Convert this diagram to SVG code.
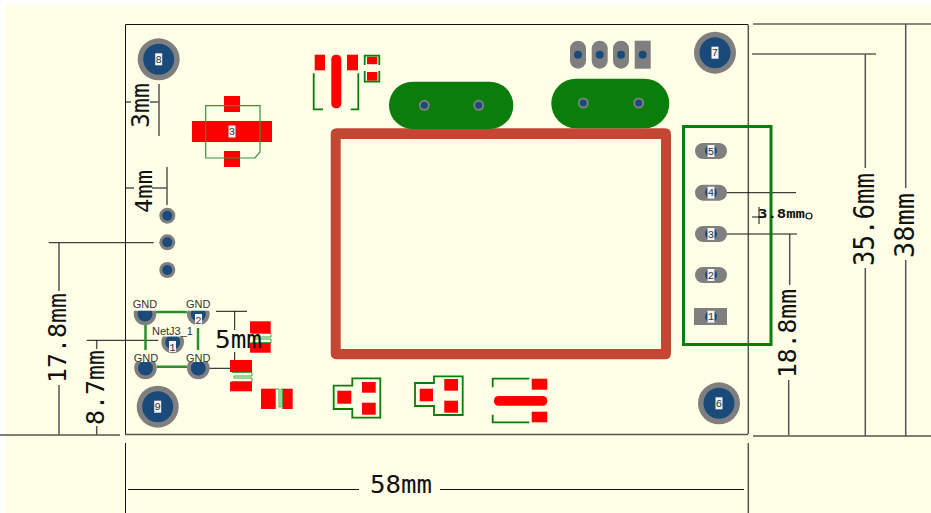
<svg xmlns="http://www.w3.org/2000/svg" width="931" height="513" viewBox="0 0 931 513">
<style>
.bg{fill:#ffffe8}
.pad{fill:#fe0000}
.outline{fill:none;stroke:#0a7d0a;stroke-width:1.8}
.fine{fill:none;stroke:#3c8f3c;stroke-width:1.2}
.thick{fill:none;stroke:#0a7d0a;stroke-width:3}
.track{fill:none;stroke:#2b8f2b;stroke-width:2.5}
.thin{fill:none;stroke:#46a046;stroke-width:1}
.ring{fill:#7f7f7f}
.hole{fill:#1a4a7a}
.body{fill:#0a7d0a}
.dim{stroke:#111;stroke-width:1;fill:none}
.dimg{stroke:#555;stroke-width:1.5;fill:none}
.box{fill:#f4f4f4}
.lab{font-family:"Liberation Mono","DejaVu Sans Mono",monospace;font-size:10.5px;fill:#334;text-anchor:middle}
.net{font-family:"Liberation Sans","DejaVu Sans",sans-serif;font-size:11px;fill:#333;text-anchor:middle}
.size{font-family:"DejaVu Sans Mono","Liberation Mono",monospace;fill:#111}
</style>
<defs>
<g id="mount"><circle r="21" class="ring"/><circle r="15.5" class="hole"/><rect x="-3.5" y="-6" width="7" height="12" class="box"/></g>
<g id="pin"><circle r="8" class="ring"/><circle r="5" class="hole"/></g>
<g id="via"><circle r="5.5" class="ring"/><circle r="3.5" class="hole"/></g>
<g id="pill5"><rect x="-16" y="-8" width="32" height="16" rx="8" class="ring"/><circle r="6" class="hole"/><rect x="-3.5" y="-6" width="7" height="12" class="box"/></g>
<g id="pillv"><rect x="-8" y="-14" width="16" height="28" rx="8" class="ring"/><circle r="4" class="hole"/></g>
</defs>
<rect width="931" height="513" fill="#fff"/>
<rect x="5" y="5" width="926" height="508" class="bg"/>

<g id="relay"><path fill="#c34733" fill-rule="evenodd" d="M337 128.3H665Q671 128.3 671 134.3V353.3Q671 359.3 665 359.3H337Q330.7 359.3 330.7 353.3V134.3Q330.7 128.3 337 128.3ZM340.7 139V349H661V139Z"/></g>

<g id="connectors">
<path class="dim" d="M125.5 24.5H748M125.5 24.5V434"/>
<path class="dimg" d="M748.3 24.5V434M0 435H120M125 434.5H748M753 436H931"/>
<path class="dim" d="M125.5 443V513M128 489.5H359M440 489.5H744"/>
<path class="dimg" d="M748.3 443V513"/>
<path class="dim" d="M753 24H931M752 54H876"/>
<path class="dimg" d="M865.3 54V168M865.3 268V436M905.7 24V188M905.7 260V436M788.7 380V435M789.7 234V285"/>
<path class="dim" d="M727 192.7H796M727 234H797M752 217H766M759 207V224"/>
<path class="dimg" d="M159 84V136M126 102H131M150 102H159"/>
<path class="dimg" d="M167 167V205M126 188H134M152 188H167M59 243V291M59 385V435M96.7 340V349M96.7 426V435"/>
<path class="dim" d="M48.7 242.7H153.7M86.7 340.3H158.3M216 311.3H247M234.7 311V330M234.7 352V368M209 368.3H252"/>
</g>

<g id="mount-8"><use href="#mount" x="158.7" y="59.3"/><text class="lab" x="158.7" y="63">8</text></g>
<g id="mount-7"><use href="#mount" x="715" y="52.7"/><text class="lab" x="715" y="56.4">7</text></g>
<g id="mount-9"><use href="#mount" x="157.7" y="406.7"/><text class="lab" x="157.7" y="410.4">9</text></g>
<g id="mount-6"><use href="#mount" x="719" y="403.3"/><text class="lab" x="719" y="407">6</text></g>

<g id="u3">
<rect class="pad" x="224" y="96" width="16" height="16"/>
<rect class="pad" x="192" y="121" width="80" height="21"/>
<rect class="pad" x="224" y="151" width="16" height="16"/>
<path class="fine" d="M205.7 105.7H260V152L255 158H205.7Z"/>
<rect class="box" x="228.5" y="125.5" width="7" height="12"/>
<text class="lab" x="232" y="135">3</text>
</g>

<g id="q1">
<rect class="pad" x="314.7" y="54.7" width="10.3" height="15.6"/>
<rect class="pad" x="347" y="54.7" width="11" height="15.6"/>
<rect class="pad" x="331.3" y="54.7" width="10" height="53.5" rx="4.5"/>
<path class="outline" d="M313.7 73.3V109.3H323M358.3 73.3V109.3H350.7"/>
</g>

<g id="c1">
<rect class="pad" x="367" y="56.7" width="10.3" height="7.5"/>
<rect class="pad" x="367" y="72" width="10.3" height="8.7"/>
<path class="outline" d="M364.7 65V55.6H379.3V65M364.7 71V81.7H379.3V71"/>
</g>

<g id="switch-1"><rect class="body" x="389" y="81.7" width="124.3" height="47.3" rx="23.6"/><use href="#via" x="424.3" y="105.3"/><use href="#via" x="478.7" y="105.3"/></g>
<g id="switch-2"><rect class="body" x="551.3" y="78.7" width="118" height="49.6" rx="24.8"/><use href="#via" x="583.3" y="103"/><use href="#via" x="638.7" y="103"/></g>

<g id="header">
<use href="#pillv" x="578" y="54.7"/><use href="#pillv" x="599.7" y="54.7"/><use href="#pillv" x="621" y="54.7"/>
<rect class="ring" x="634.7" y="40.7" width="16" height="28"/><circle class="hole" cx="642.7" cy="54.7" r="4"/>
</g>

<g id="terminal">
<rect class="thick" x="683.5" y="126.5" width="87.5" height="218"/>
<use href="#pill5" x="711" y="151"/><text class="lab" x="711" y="154.7">5</text>
<use href="#pill5" x="711" y="192.7"/><text class="lab" x="711" y="196.4">4</text>
<use href="#pill5" x="711" y="234"/><text class="lab" x="711" y="237.7">3</text>
<use href="#pill5" x="711" y="275"/><text class="lab" x="711" y="278.7">2</text>
<rect class="ring" x="694" y="308" width="33" height="17"/><circle class="hole" cx="711" cy="316.7" r="6"/><rect class="box" x="707.5" y="310.7" width="7" height="12"/><text class="lab" x="711" y="320.4">1</text>
</g>

<g id="pins-3"><use href="#pin" x="167.3" y="215.7"/><use href="#pin" x="167.3" y="242.3"/><use href="#pin" x="167.3" y="270"/></g>

<g id="netj3">
<path class="track" d="M156 312H187M157 366.7H187M145.5 325V358M198 328V352"/>
<circle class="ring" cx="145" cy="314" r="11.3"/><circle class="hole" cx="145" cy="314" r="7.5"/>
<circle class="ring" cx="198.3" cy="314" r="11.3"/><circle class="hole" cx="198.3" cy="314" r="7.5"/>
<circle class="ring" cx="145.5" cy="368" r="11.3"/><circle class="hole" cx="145.5" cy="368" r="7.5"/>
<circle class="ring" cx="198.3" cy="368" r="11.3"/><circle class="hole" cx="198.3" cy="368" r="7.5"/>
<circle class="ring" cx="172.7" cy="342" r="11.3"/><circle class="hole" cx="172.7" cy="342" r="7.5"/>
<rect class="bg" x="132" y="298" width="26" height="12.7"/><rect class="bg" x="185" y="298" width="27" height="12.7"/>
<rect class="bg" x="132" y="350" width="26" height="12"/><rect class="bg" x="185" y="350" width="27" height="12"/>
<rect class="bg" x="152" y="325" width="41" height="11.5"/>
<text class="net" x="145" y="308">GND</text><text class="net" x="198.3" y="308">GND</text>
<text class="net" x="146" y="361.5">GND</text><text class="net" x="198.3" y="361.5">GND</text>
<text class="net" x="172.5" y="335">NetJ3_1</text>
<rect class="box" x="195" y="314" width="7" height="11"/><text class="lab" x="198.5" y="323.5">2</text>
<rect class="box" x="169" y="341" width="7" height="11"/><text class="lab" x="172.5" y="350.5">1</text>
</g>

<g id="r1">
<rect class="pad" x="250" y="321.3" width="20.7" height="12"/><rect class="pad" x="250" y="342.7" width="20.7" height="10"/>
<path class="thin" d="M251.7 333.5H271V337H254V339H271V342.5H251.7"/>
</g>
<g id="r2">
<rect class="pad" x="230" y="360" width="22" height="12"/><rect class="pad" x="230" y="381.7" width="22" height="9.6"/>
<path class="thin" d="M232 372.5H252V376H234V378H252V381.5H232"/>
</g>
<g id="r3">
<rect class="pad" x="261" y="388.7" width="14.3" height="20.3"/><rect class="pad" x="282.7" y="388.7" width="10" height="20.3"/>
<path class="thin" d="M275.5 409V389H279V407H281V389H282.5V409"/>
</g>

<g id="part-a">
<path class="outline" d="M333.7 385.7H352.3V378.3H380.3V417.7H352.3V409H333.7Z"/>
<rect class="pad" x="337.3" y="390.7" width="14" height="13"/><rect class="pad" x="362" y="382" width="13.7" height="10.7"/><rect class="pad" x="362" y="402.7" width="13.7" height="12"/>
</g>
<g id="part-b">
<path class="outline" d="M415 383H434V376.3H462.7V415H434V406H415Z"/>
<rect class="pad" x="419.7" y="388.7" width="13.3" height="12.6"/><rect class="pad" x="444.3" y="379" width="13.7" height="11.7"/><rect class="pad" x="444.3" y="400.7" width="13.7" height="12"/>
</g>
<g id="part-c">
<path class="outline" d="M492.7 387.3V378.7H529.3M492.7 414.7V422.3H529.3"/>
<rect class="pad" x="531.7" y="378.7" width="15.6" height="11"/><rect class="pad" x="531.7" y="411.7" width="15.6" height="10.6"/><rect class="pad" x="494" y="396" width="53.3" height="9.7" rx="4.5"/>
</g>

<g id="dimensions">
<text class="size" font-size="24" transform="translate(149 128) rotate(-90)" textLength="45" lengthAdjust="spacingAndGlyphs">3mm</text>
<text class="size" font-size="23" transform="translate(152 213) rotate(-90)" textLength="43" lengthAdjust="spacingAndGlyphs">4mm</text>
<text class="size" font-size="25" transform="translate(66 383) rotate(-90)" textLength="90" lengthAdjust="spacingAndGlyphs">17.8mm</text>
<text class="size" font-size="24" transform="translate(104 425) rotate(-90)" textLength="75" lengthAdjust="spacingAndGlyphs">8.7mm</text>
<text class="size" font-size="25" transform="translate(796 378) rotate(-90)" textLength="89" lengthAdjust="spacingAndGlyphs">18.8mm</text>
<text class="size" font-size="28" transform="translate(874 266) rotate(-90)" textLength="93" lengthAdjust="spacingAndGlyphs">35.6mm</text>
<text class="size" font-size="26" transform="translate(914 258) rotate(-90)" textLength="65" lengthAdjust="spacingAndGlyphs">38mm</text>
<text class="size" font-size="24" x="215" y="348" textLength="47" lengthAdjust="spacingAndGlyphs">5mm</text>
<text class="size" font-size="24" x="370" y="492.5" textLength="62" lengthAdjust="spacingAndGlyphs">58mm</text>
<text class="size" font-size="13" font-weight="bold" x="758" y="218" textLength="47" lengthAdjust="spacingAndGlyphs">3.8mm</text>
<circle cx="809" cy="216" r="3" fill="none" stroke="#111" stroke-width="1.2"/>
</g>
</svg>
